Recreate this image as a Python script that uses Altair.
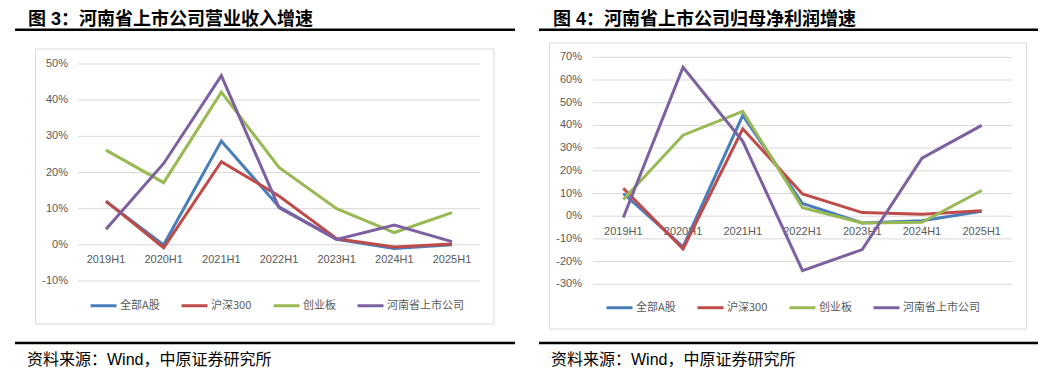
import altair as alt
import pandas as pd

# ---------------- data ----------------
categories = ["2019H1", "2020H1", "2021H1", "2022H1", "2023H1", "2024H1", "2025H1"]
series_names = ["全部A股", "沪深300", "创业板", "河南省上市公司"]
series_colors = ["#4A7EBB", "#BE4B48", "#98B954", "#7D60A0"]

# Figure 3: revenue growth
rev_all_a = [0.120, 0.000, 0.287, 0.105, 0.015, -0.010, 0.000]
rev_hs300 = [0.121, -0.008, 0.230, 0.135, 0.017, -0.006, 0.002]
rev_gem = [0.262, 0.172, 0.422, 0.214, 0.100, 0.034, 0.089]
rev_henan = [0.043, 0.225, 0.468, 0.103, 0.015, 0.055, 0.009]

# Figure 4: net profit growth
np_all_a = [0.100, -0.135, 0.444, 0.056, -0.030, -0.020, 0.022]
np_hs300 = [0.123, -0.144, 0.385, 0.098, 0.016, 0.009, 0.024]
np_gem = [0.074, 0.357, 0.462, 0.037, -0.030, -0.027, 0.113]
np_henan = [-0.006, 0.656, 0.330, -0.240, -0.147, 0.256, 0.400]

left_ticks = [-0.1, 0.0, 0.1, 0.2, 0.3, 0.4, 0.5]
left_tick_labels = ["-10%", "0%", "10%", "20%", "30%", "40%", "50%"]
right_ticks = [-0.3, -0.2, -0.1, 0.0, 0.1, 0.2, 0.3, 0.4, 0.5, 0.6, 0.7]
right_tick_labels = ["-30%", "-20%", "-10%", "0%", "10%", "20%", "30%", "40%", "50%", "60%", "70%"]

title_left = "图 3：河南省上市公司营业收入增速"
title_right = "图 4：河南省上市公司归母净利润增速"
source_text = "资料来源：Wind，中原证券研究所"

CJK = "Noto Sans CJK SC"
MIX = "Liberation Sans, Noto Sans CJK SC"
LAT = "Liberation Sans"
GRAY = "#595959"


def long_df(vals_list):
    rows = []
    for name, vals in zip(series_names, vals_list):
        for c, v in zip(categories, vals):
            rows.append({"cat": c, "series": name, "value": v})
    return pd.DataFrame(rows)


one = alt.InlineData(values=[{"k": 0}])


def panel(df, ticks, tick_labels, ydom, yrange, xrange, grid_x, ylab_x, xlab_y,
          title, title_x, rule_x, box, legend_xy, col_pad, src_x, w, h):
    xs = alt.Scale(type="point", domain=categories, range=xrange, padding=0)
    ys = alt.Scale(domain=ydom, range=yrange, nice=False, zero=False)
    tdf = pd.DataFrame({"v": ticks, "lab": tick_labels})
    cdf = pd.DataFrame({"cat": categories})

    box_m = alt.Chart(one).mark_rect(fill="white", stroke="#D9D9D9", strokeWidth=1).encode(
        x=alt.value(box[0]), x2=alt.value(box[1]), y=alt.value(box[2]), y2=alt.value(box[3]))
    grid = alt.Chart(tdf).mark_rule(color="#D9D9D9", strokeWidth=1).encode(
        y=alt.Y("v:Q", scale=ys, axis=None), x=alt.value(grid_x[0]), x2=alt.value(grid_x[1]))
    ylab = alt.Chart(tdf).mark_text(align="right", baseline="middle", font=LAT, fontSize=11,
                                    color=GRAY).encode(
        y=alt.Y("v:Q", scale=ys, axis=None), x=alt.value(ylab_x), text="lab:N")
    xlab = alt.Chart(cdf).mark_text(align="center", baseline="middle", font=LAT, fontSize=11,
                                    color=GRAY).encode(
        x=alt.X("cat:N", scale=xs, axis=None), y=alt.value(xlab_y), text="cat:N")
    lines = alt.Chart(df).mark_line(strokeWidth=3, strokeJoin="miter").encode(
        x=alt.X("cat:N", scale=xs, axis=None, sort=categories),
        y=alt.Y("value:Q", scale=ys, axis=None),
        color=alt.Color("series:N", sort=series_names,
                        scale=alt.Scale(domain=series_names, range=series_colors),
                        legend=alt.Legend(orient="none", legendX=legend_xy[0], legendY=legend_xy[1],
                                          direction="horizontal", title=None, symbolType="stroke",
                                          symbolSize=676, symbolStrokeWidth=3, labelFont=CJK,
                                          labelFontSize=11, labelColor=GRAY, labelOffset=2,
                                          columnPadding=col_pad, gridAlign="each", padding=0)),
        order=alt.Order("series_idx:Q"),
    ).transform_calculate(series_idx="indexof(%s, datum.series)" % str(series_names))
    ttl = alt.Chart(one).mark_text(text=title, align="left", baseline="alphabetic", font=MIX,
                                   fontSize=18, fontWeight="bold", color="black").encode(
        x=alt.value(title_x), y=alt.value(16.8))
    top_rule = alt.Chart(one).mark_rule(color="black", strokeWidth=2.6).encode(
        x=alt.value(rule_x[0]), x2=alt.value(rule_x[1]), y=alt.value(21.8))
    bot_rule = alt.Chart(one).mark_rule(color="black", strokeWidth=2.6).encode(
        x=alt.value(rule_x[0]), x2=alt.value(rule_x[1]), y=alt.value(335))
    src = alt.Chart(one).mark_text(text=source_text, align="left", baseline="middle", font=MIX,
                                   fontSize=16, color="black").encode(
        x=alt.value(src_x), y=alt.value(352))
    return alt.layer(box_m, grid, ylab, xlab, lines, ttl, top_rule, bot_rule, src).properties(
        width=w, height=h)


left = panel(long_df([rev_all_a, rev_hs300, rev_gem, rev_henan]), left_ticks, left_tick_labels,
             [-0.1, 0.5], [273, 56], [98, 444], (70, 472), 60, 252,
             title_left, 20, (7, 507), (27.5, 486, 41, 316), (81, 283), 15, 19, 520, 365)
right = panel(long_df([np_all_a, np_hs300, np_gem, np_henan]), right_ticks, right_tick_labels,
              [-0.3, 0.7], [276.3, 49.3], [95.3, 453.7], (65, 484), 54, 224,
              title_right, 25, (11, 510), (21.5, 498.5, 35, 321), (77, 285), 15, 23, 514, 365)

chart = alt.hconcat(left, right, spacing=0).resolve_scale(
    color="independent", x="independent", y="independent").properties(padding=0).configure_view(
    stroke=None)

chart.save("out.html", embed_options={"renderer": "svg", "actions": False})
